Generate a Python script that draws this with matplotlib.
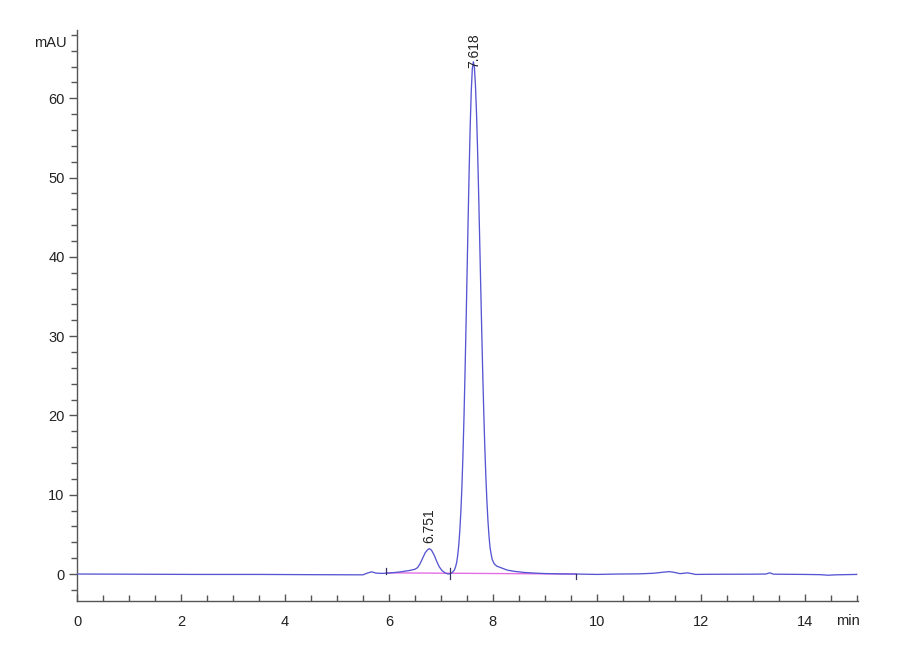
import matplotlib
matplotlib.use("Agg")
import matplotlib.pyplot as plt
from matplotlib.ticker import MultipleLocator

plt.rcParams['font.family'] = ['Liberation Sans Narrow', 'Liberation Sans', 'DejaVu Sans']

# chromatogram trace (time in min, signal in mAU)
time_min = [0.0, 1.0, 2.3, 3.5, 4.5, 5.5, 5.6, 5.67, 5.75, 5.85, 6.0, 6.2, 6.4, 6.5,
            6.55, 6.6, 6.65, 6.7, 6.75, 6.78, 6.82, 6.87, 6.92, 6.97, 7.02, 7.08, 7.14,
            7.18, 7.22, 7.26, 7.285, 7.305, 7.325, 7.345, 7.365, 7.385, 7.405, 7.425,
            7.445, 7.465, 7.485, 7.505, 7.525, 7.545, 7.565, 7.585, 7.605, 7.625,
            7.645, 7.665, 7.685, 7.705, 7.725, 7.745, 7.765, 7.785, 7.805, 7.825,
            7.845, 7.865, 7.885, 7.905, 7.925, 7.945, 7.965, 7.985, 8.025, 8.075,
            8.175, 8.275, 8.4, 8.6, 8.8, 9.0, 9.3, 9.6, 10.0, 10.4, 10.8, 11.1, 11.3,
            11.4, 11.5, 11.6, 11.75, 11.9, 12.2, 13.0, 13.25, 13.33, 13.4, 14.0, 14.3,
            14.45, 14.6, 15.0]
signal_mau = [0.0, -0.02, -0.05, -0.05, -0.08, -0.1, 0.15, 0.28, 0.12, 0.08, 0.12, 0.25, 0.45, 0.6,
              0.8, 1.3, 2.0, 2.7, 3.1, 3.2, 3.0, 2.4, 1.6, 0.9, 0.45, 0.15, 0.0,
              0.05, 0.2, 0.5, 0.95, 1.5, 2.4, 3.7, 5.5, 7.9, 11.0, 15.0,
              19.8, 25.4, 31.6, 38.2, 44.8, 51.1, 56.6, 60.9, 63.7, 64.6,
              63.9, 61.7, 58.3, 53.8, 48.5, 42.7, 36.8, 31.0, 25.5, 20.5,
              16.1, 12.4, 9.3, 6.8, 4.9, 3.4, 2.6, 1.9, 1.3, 1.0,
              0.75, 0.5, 0.35, 0.2, 0.12, 0.06, 0.02, 0.0, -0.05, 0.0, 0.02, 0.1, 0.25,
              0.3, 0.2, 0.05, 0.15, -0.05, -0.03, -0.02, 0.0, 0.15, -0.02, -0.05, -0.08,
              -0.15, -0.1, -0.05]

# integration baselines and event markers
base_t = [5.95, 7.18, 9.6]
base_v = [0.15, 0.1, 0.0]
peak_times = [6.751, 7.618]
peak_labels = ["6.751", "7.618"]
peak_heights = [3.2, 64.6]

LINE = '#5656d2'
PINK = '#e36fe3'
AX = '#555555'

fig = plt.figure(figsize=(9, 6.6), dpi=100)
ax = fig.add_axes([0.0856, 0.0894, 0.953 - 0.0856, 0.9545 - 0.0894])

ax.plot(base_t, base_v, color=PINK, lw=1.0, zorder=2)
ax.plot(time_min, signal_mau, color=LINE, lw=0.95, zorder=3)

# event tick marks
ax.plot([base_t[0], base_t[0]], [0.05, 0.75], color='#333366', lw=0.9, zorder=4)
ax.plot([base_t[1], base_t[1]], [-0.6, 0.7], color='#333366', lw=0.9, zorder=4)
ax.plot([base_t[2], base_t[2]], [0.0, -0.6], color='#333366', lw=0.9, zorder=4)

# peak labels
ax.text(peak_times[0] + 0.03, peak_heights[0] + 0.7, peak_labels[0], rotation=90,
        ha='center', va='bottom', fontsize=10, color='#222222')
ax.text(peak_times[1] + 0.03, peak_heights[1] - 0.8, peak_labels[1], rotation=90,
        ha='center', va='bottom', fontsize=10, color='#222222', clip_on=False)

ax.set_xlim(0, 15.02)
ax.set_ylim(-3.4, 68.6)

for s in ['top', 'right']:
    ax.spines[s].set_visible(False)
for s in ['left', 'bottom']:
    ax.spines[s].set_color(AX)
    ax.spines[s].set_linewidth(1.0)

ax.xaxis.set_major_locator(MultipleLocator(2))
ax.xaxis.set_minor_locator(MultipleLocator(0.5))
ax.yaxis.set_major_locator(MultipleLocator(10))
ax.yaxis.set_minor_locator(MultipleLocator(2))

ax.tick_params(axis='x', which='major', direction='in', length=5, width=1, color=AX,
               pad=10, labelsize=10.5, labelcolor='#222222')
ax.tick_params(axis='x', which='minor', direction='in', length=4, width=1, color=AX)
ax.tick_params(axis='y', which='major', direction='out', length=6, width=1, color=AX,
               pad=3, labelsize=10.5, labelcolor='#222222')
ax.tick_params(axis='y', which='minor', direction='out', length=4.5, width=1, color=AX)

fig.text(67 / 900, 1 - 43 / 660, 'mAU', ha='right', va='center', fontsize=10.5, color='#222222')
fig.text(848 / 900, 1 - 621 / 660, 'min', ha='center', va='center', fontsize=10.5, color='#222222')

fig.savefig('out.png', dpi=100)
